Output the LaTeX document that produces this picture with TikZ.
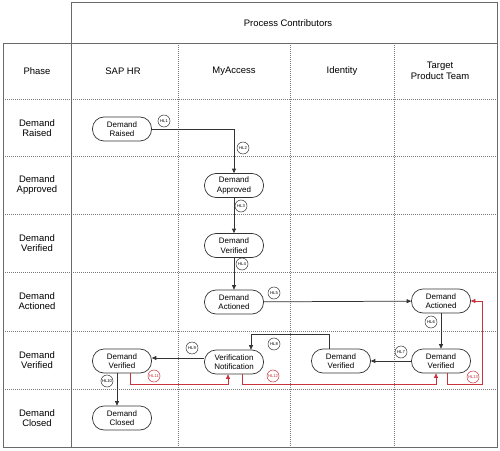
\documentclass[tikz,border=0pt]{standalone}
\usepackage{fontspec}
\setmainfont{Liberation Sans}
\usetikzlibrary{arrows.meta}
\definecolor{gridc}{HTML}{7A7A7A}
\definecolor{linec}{HTML}{6A6A6A}
\definecolor{nodec}{HTML}{333333}
\definecolor{redc}{HTML}{C8323C}
\begin{document}
\begin{tikzpicture}[x=1bp,y=-1bp,
  stepbox/.style={draw=nodec, line width=0.7pt, rounded corners=11.5bp, minimum width=59bp, minimum height=24bp, align=center, inner sep=1pt, font=\fontsize{8}{9.5}\selectfont},
  hdr/.style={align=center, inner sep=0pt, font=\fontsize{9.5}{10.5}\selectfont},
  hl/.style={circle, draw=nodec, line width=0.5pt, minimum size=12bp, inner sep=0pt, font=\fontsize{4.2}{4.5}\selectfont},
  hlr/.style={hl, draw=redc, text=redc},
  conn/.style={draw=nodec, line width=0.75pt, -{Triangle[length=4.5bp,width=4bp]}},
  redconn/.style={conn, draw=redc, line width=0.65pt},
  gridline/.style={draw=gridc, line width=0.6pt, dash pattern=on 0.8bp off 1.2bp},
  frameline/.style={draw=linec, line width=0.9pt}]
\useasboundingbox (0,0) rectangle (500,451);
% grid
\foreach \yy in {99,156,214,272,331,389} {\draw[gridline] (3,\yy) -- (497,\yy);}
\foreach \xx in {178,290,394} {\draw[gridline] (\xx,43) -- (\xx,447);}
\draw[frameline] (3,43) rectangle (497,447);
\draw[frameline] (71,2) rectangle (497,43);
\draw[frameline] (71,43) -- (71,447);
% headers
\node[hdr] (pc) at (288,23) {Process Contributors};
\node[hdr] (hphase) at (37,71) {Phase};
\node[hdr] (hsap) at (123,71) {SAP HR};
\node[hdr] (hmy) at (234,71) {MyAccess};
\node[hdr] (hid) at (342,71) {Identity};
\node[hdr] (htpt) at (440,71) {Target\\Product Team};
\node[hdr] (p1) at (37,128) {Demand\\Raised};
\node[hdr] (p2) at (37,185) {Demand\\Approved};
\node[hdr] (p3) at (37,243) {Demand\\Verified};
\node[hdr] (p4) at (37,301) {Demand\\Actioned};
\node[hdr] (p5) at (37,360) {Demand\\Verified};
\node[hdr] (p6) at (37,418) {Demand\\Closed};
% process nodes
\node[stepbox] (dr) at (122,129) {Demand\\Raised};
\node[stepbox] (da) at (234,185.5) {Demand\\Approved};
\node[stepbox] (dv1) at (234,245.5) {Demand\\Verified};
\node[stepbox] (dact1) at (234,302) {Demand\\Actioned};
\node[stepbox] (vn) at (234,362) {Verification\\Notification};
\node[stepbox] (dvs) at (122,361) {Demand\\Verified};
\node[stepbox] (dc) at (122,418) {Demand\\Closed};
\node[stepbox] (dact2) at (441,301) {Demand\\Actioned};
\node[stepbox] (dv3) at (441,361) {Demand\\Verified};
\node[stepbox] (dv2) at (341,361) {Demand\\Verified};
% connectors
\draw[conn] (dr.east) -| (da.north);
\draw[conn] (da) -- (dv1);
\draw[conn] (dv1) -- (dact1);
\draw[conn] (dact1) -- (dact2);
\draw[conn] (dact2) -- (dv3);
\draw[conn] (dv3) -- (dv2);
\coordinate (d2top) at ([xshift=-12bp]dv2.north);
\coordinate (vntop) at ([xshift=17bp]vn.north);
\coordinate (lev8) at (0,334);
\draw[conn] (d2top) -- (d2top |- lev8) -- (vntop |- lev8) -- (vntop);
\coordinate (vnw) at ([yshift=4bp]vn.west);
\draw[conn] (vnw) -- (vnw -| dvs.east);
\coordinate (dvsb) at ([xshift=-5bp]dvs.south);
\coordinate (dct) at ([xshift=-5bp]dc.north);
\draw[conn] (dvsb) -- (dct);
% red connectors
\coordinate (redlev) at (0,384);
\coordinate (r11a) at ([xshift=8bp]dvs.south);
\coordinate (r11b) at ([xshift=-6bp]vn.south);
\draw[redconn] (r11a) -- (r11a |- redlev) -- (r11b |- redlev) -- (r11b);
\coordinate (r12a) at ([xshift=8bp]vn.south);
\coordinate (r12b) at ([xshift=-5bp]dv3.south);
\draw[redconn] (r12a) -- (r12a |- redlev) -- (r12b |- redlev) -- (r12b);
\coordinate (r13a) at ([xshift=6bp]dv3.south);
\coordinate (rr) at (482,0);
\draw[redconn] (r13a) -- (r13a |- redlev) -- (rr |- redlev) -- (rr |- dact2.east) -- (dact2.east);
% labels
\node[hl] (hl1) at (164,121) {HL1};
\node[hl] (hl2) at (243,148) {HL2};
\node[hl] (hl3) at (241,206) {HL3};
\node[hl] (hl4) at (242,264) {HL4};
\node[hl] (hl5) at (274,293) {HL5};
\node[hl] (hl6) at (431,322) {HL6};
\node[hl] (hl7) at (401,352) {HL7};
\node[hl] (hl8) at (274,344) {HL8};
\node[hl] (hl9) at (192,348) {HL9};
\node[hl] (hl10) at (107,381) {HL10};
\node[hlr] (hl11) at (154,376) {HL11};
\node[hlr] (hl12) at (273,376) {HL12};
\node[hlr] (hl13) at (473,377) {HL13};
\end{tikzpicture}
\end{document}
